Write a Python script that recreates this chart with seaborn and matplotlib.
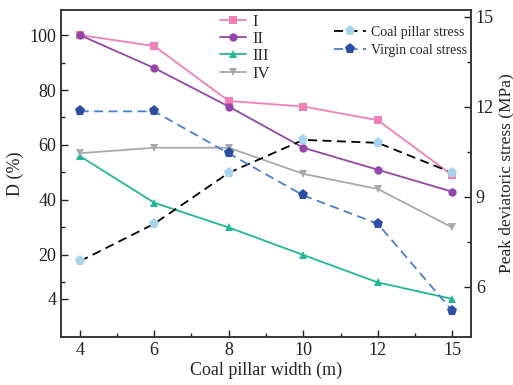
import numpy as np
import pandas as pd
import matplotlib
matplotlib.use("Agg")
import matplotlib.pyplot as plt
import seaborn as sns

sns.set_style("white")
plt.rcParams['font.family'] = ['Liberation Serif', 'DejaVu Serif']

widths = ["4", "6", "8", "10", "12", "15"]
D_I = [100, 96, 76, 74, 69, 49]
D_II = [100, 88, 74, 59, 51, 43]
D_III = [56, 39, 30, 20, 10, 4]
D_IV = [57, 59, 59, 49.5, 44, 30]
coal_pillar_stress = [6.85, 8.1, 9.8, 10.9, 10.8, 9.8]
virgin_coal_stress = [11.85, 11.85, 10.45, 9.05, 8.1, 5.2]
left_ticks = [4, 20, 40, 60, 80, 100]
right_ticks = [6, 9, 12, 15]

pos = np.arange(len(widths))
df = pd.DataFrame({"pos": pos, "I": D_I, "II": D_II, "III": D_III, "IV": D_IV,
                   "cps": coal_pillar_stress, "vcs": virgin_coal_stress})

fig, ax = plt.subplots(figsize=(5.13, 3.85), dpi=100)
fig.subplots_adjust(left=0.119, right=0.918, top=0.974, bottom=0.125)

styles = [("I", "#f27fb9", "s"), ("II", "#9447a6", "o"),
          ("III", "#22b797", "^"), ("IV", "#a9a9a9", "v")]
for col, c, m in styles:
    sns.lineplot(data=df, x="pos", y=col, ax=ax, color=c, marker=m,
                 markersize=6, markeredgewidth=0, linewidth=1.3, label=col)

ax2 = ax.twinx()
sns.lineplot(data=df, x="pos", y="cps", ax=ax2, color="black", linestyle=(0, (5, 3)),
             linewidth=1.3, marker="p", markersize=8, markerfacecolor="#a8d3ea",
             markeredgewidth=0, label="Coal pillar stress")
sns.lineplot(data=df, x="pos", y="vcs", ax=ax2, color="#4a7fcf", linestyle=(0, (5, 3)),
             linewidth=1.3, marker="p", markersize=8, markerfacecolor="#2d4ea2",
             markeredgewidth=0, label="Virgin coal stress")

ax.set_xlim(-0.25, 5.25)
ax.set_ylim(-9.8, 109.1)
ax2.set_ylim(4.33, 15.23)
ax.set_xticks(pos)
ax.set_xticklabels(widths)
ax.set_xticks(pos[:-1] + 0.5, minor=True)
ax.set_yticks(left_ticks)
ax.set_yticks([10, 30, 50, 70, 90], minor=True)
ax2.set_yticks(right_ticks)
ax2.set_yticks([7.5, 10.5, 13.5], minor=True)

for a in (ax, ax2):
    a.tick_params(which="both", direction="in", labelsize=13, colors="#222222")
    a.tick_params(which="major", length=5, width=1)
    a.tick_params(which="minor", length=3, width=1)
    for s in a.spines.values():
        s.set_color("#333333")
        s.set_linewidth(1.1)
ax.tick_params(axis="y", left=True, which="both")
ax.tick_params(axis="x", bottom=True, which="both")
ax2.tick_params(axis="y", right=True, which="both")

ax.set_xlabel("Coal pillar width (m)", fontsize=13, labelpad=2)
ax.set_ylabel("D (%)", fontsize=13, labelpad=4)
ax2.set_ylabel("Peak deviatoric stress (MPa)", fontsize=12.5, labelpad=3)

ax.legend(loc="upper left", bbox_to_anchor=(0.35, 1.035), frameon=False,
          fontsize=12, handlelength=1.6, labelspacing=0.08, handletextpad=0.4)
ax2.legend(loc="upper left", bbox_to_anchor=(0.635, 0.99), frameon=False,
           fontsize=10, handlelength=2.3, labelspacing=0.35, handletextpad=0.4)

fig.savefig("out.png", dpi=100)
